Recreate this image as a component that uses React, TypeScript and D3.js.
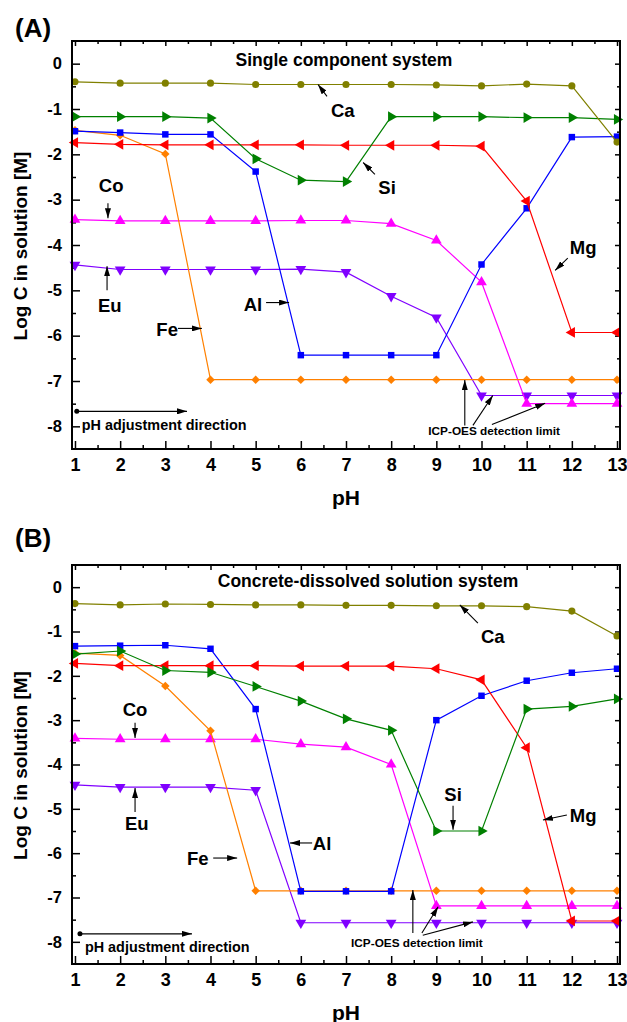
import React, { useEffect, useRef } from 'react';
import * as d3 from 'd3';

const FONT = 'Arial, "Liberation Sans", Helvetica, sans-serif';

const pH = [1, 2, 3, 4, 5, 6, 7, 8, 9, 10, 11, 12, 13];

// (A) single component system, log C [M]
const caA = [-0.4, -0.43, -0.43, -0.43, -0.46, -0.46, -0.46, -0.46, -0.47, -0.49, -0.45, -0.49, -1.73];
const siA = [-1.17, -1.17, -1.17, -1.2, -2.1, -2.57, -2.6, -1.17, -1.17, -1.17, -1.19, -1.19, -1.23];
const mgA = [-1.74, -1.78, -1.79, -1.79, -1.79, -1.79, -1.8, -1.8, -1.8, -1.82, -3.03, -5.93, -5.93];
const alA = [-1.49, -1.52, -1.56, -1.56, -2.38, -6.43, -6.43, -6.43, -6.43, -4.43, -3.19, -1.62, -1.61];
const feA = [-1.47, -1.58, -1.99, -6.97, -6.97, -6.97, -6.97, -6.97, -6.97, -6.97, -6.97, -6.97, -6.97];
const coA = [-3.44, -3.47, -3.47, -3.47, -3.47, -3.46, -3.46, -3.53, -3.9, -4.82, -7.5, -7.5, -7.5];
const euA = [-4.44, -4.54, -4.54, -4.54, -4.54, -4.53, -4.6, -5.13, -5.6, -7.32, -7.32, -7.32, -7.32];

// (B) concrete-dissolved solution system
const caB = [-0.37, -0.4, -0.38, -0.39, -0.4, -0.4, -0.41, -0.41, -0.42, -0.42, -0.44, -0.54, -1.1];
const siB = [-1.51, -1.44, -1.88, -1.92, -2.24, -2.57, -2.97, -3.23, -5.5, -5.5, -2.75, -2.69, -2.52];
const mgB = [-1.72, -1.77, -1.77, -1.77, -1.77, -1.78, -1.78, -1.78, -1.84, -2.09, -3.62, -7.53, -7.53];
const alB = [-1.33, -1.32, -1.31, -1.39, -2.75, -6.86, -6.86, -6.86, -3.0, -2.45, -2.11, -1.93, -1.84];
const feB = [-1.49, -1.54, -2.23, -3.24, -6.85, -6.85, -6.85, -6.85, -6.85, -6.85, -6.85, -6.85, -6.85];
const coB = [-3.41, -3.43, -3.43, -3.43, -3.43, -3.54, -3.61, -4.0, -7.19, -7.19, -7.19, -7.19, -7.19];
const euB = [-4.46, -4.51, -4.51, -4.51, -4.58, -7.57, -7.57, -7.57, -7.57, -7.57, -7.57, -7.57, -7.57];

const elements = ['Eu', 'Co', 'Fe', 'Al', 'Mg', 'Si', 'Ca'];
const valuesA: Record<string, number[]> = { Ca: caA, Si: siA, Mg: mgA, Al: alA, Fe: feA, Co: coA, Eu: euA };
const valuesB: Record<string, number[]> = { Ca: caB, Si: siB, Mg: mgB, Al: alB, Fe: feB, Co: coB, Eu: euB };

// marker style per element
const styles: Record<string, { color: string; symbol: d3.SymbolType; rotate: number; size: number }> = {
  Ca: { color: '#808000', symbol: d3.symbolCircle, rotate: 0, size: 40 },
  Si: { color: '#008000', symbol: d3.symbolTriangle, rotate: 90, size: 50 },
  Mg: { color: '#ff0000', symbol: d3.symbolTriangle, rotate: -90, size: 50 },
  Al: { color: '#0000ff', symbol: d3.symbolSquare, rotate: 0, size: 42 },
  Fe: { color: '#ff8000', symbol: d3.symbolSquare, rotate: 45, size: 36 },
  Co: { color: '#ff00ff', symbol: d3.symbolTriangle, rotate: 0, size: 50 },
  Eu: { color: '#8000ff', symbol: d3.symbolTriangle, rotate: 180, size: 50 },
};

type Pt = [number, number];
interface Note { text: string; at: Pt; from: Pt; to: Pt }

interface Panel {
  top: number;
  bottom: number;
  tag: string;
  tagY: number;
  title: string;
  titleX: number;
  titleY: number;
  values: Record<string, number[]>;
  notes: Note[];
  adj: { x0: number; x1: number; y: number; textY: number };
  icp: { at: Pt; arrows: [Pt, Pt][] };
}

const panels: Panel[] = [
  {
    top: 41,
    bottom: 449,
    tag: '(A)',
    tagY: 28,
    title: 'Single component system',
    titleX: 344,
    titleY: 60,
    values: valuesA,
    notes: [
      { text: 'Ca', at: [6.93, -1.03], from: [6.58, -0.72], to: [6.38, -0.46] },
      { text: 'Si', at: [7.91, -2.73], from: [7.64, -2.44], to: [7.38, -2.18] },
      { text: 'Mg', at: [12.25, -4.05], from: [11.91, -4.29], to: [11.63, -4.56] },
      { text: 'Co', at: [1.8, -2.68], from: [1.73, -3.08], to: [1.73, -3.41] },
      { text: 'Eu', at: [1.77, -5.33], from: [1.71, -5.0], to: [1.71, -4.47] },
      { text: 'Al', at: [4.94, -5.31], from: [5.23, -5.27], to: [5.74, -5.27] },
      { text: 'Fe', at: [3.04, -5.86], from: [3.28, -5.84], to: [3.81, -5.84] },
    ],
    adj: { x0: 1.04, x1: 3.48, y: -7.67, textY: -8.09 },
    icp: {
      at: [10.28, -8.2],
      arrows: [
        [[9.63, -7.98], [9.63, -6.98]],
        [[9.81, -7.98], [10.25, -7.32]],
        [[10.23, -7.96], [11.41, -7.49]],
      ],
    },
  },
  {
    top: 565,
    bottom: 964,
    tag: '(B)',
    tagY: 538,
    title: 'Concrete-dissolved solution system',
    titleX: 368,
    titleY: 581,
    values: valuesB,
    notes: [
      { text: 'Ca', at: [10.25, -1.12], from: [9.92, -0.81], to: [9.52, -0.4] },
      { text: 'Co', at: [2.33, -2.77], from: [2.33, -3.06], to: [2.33, -3.4] },
      { text: 'Eu', at: [2.37, -5.32], from: [2.33, -5.07], to: [2.33, -4.53] },
      { text: 'Fe', at: [3.72, -6.11], from: [4.06, -6.11], to: [4.59, -6.11] },
      { text: 'Al', at: [6.47, -5.79], from: [6.25, -5.77], to: [5.76, -5.77] },
      { text: 'Si', at: [9.37, -4.68], from: [9.37, -4.93], to: [9.37, -5.47] },
      { text: 'Mg', at: [12.25, -5.16], from: [11.89, -5.14], to: [11.36, -5.25] },
    ],
    adj: { x0: 1.11, x1: 3.59, y: -7.82, textY: -8.23 },
    icp: {
      at: [8.57, -8.11],
      arrows: [
        [[8.48, -7.8], [8.48, -6.83]],
        [[8.68, -7.8], [9.04, -7.21]],
        [[8.7, -7.85], [9.81, -7.55]],
      ],
    },
  },
];

const drawPanel = (svg: d3.Selection<SVGSVGElement, unknown, null, undefined>, p: Panel) => {
  const left = 72;
  const right = 620;
  const x = d3.scaleLinear().domain([0.934, 13.066]).range([left, right]);
  const y = d3.scaleLinear().domain([-8.5, 0.5]).range([p.bottom, p.top]);

  const g = svg.append('g').attr('font-family', FONT).attr('font-weight', 'bold');

  const minorX = d3.range(1.5, 13, 1);
  const majorY = d3.range(-8, 1, 1);
  const minorY = d3.range(-7.5, 0.5, 1);
  const plain = (d: d3.NumberValue) => `${d}`; // keep ASCII hyphen like the original

  const styleAxis = (sel: d3.Selection<SVGGElement, unknown, null, undefined>, size: number) => {
    sel.select('.domain').remove();
    sel.selectAll('line').attr('stroke', '#000').attr('stroke-width', 1.5);
    sel.attr('font-family', FONT).attr('font-size', size).attr('font-weight', 'bold');
  };

  // bottom axis
  g.append('g')
    .attr('transform', `translate(0,${p.bottom})`)
    .call(d3.axisBottom(x).tickValues(pH).tickSize(-8).tickPadding(9).tickFormat(plain))
    .call((s) => styleAxis(s, 18));
  g.append('g')
    .attr('transform', `translate(0,${p.bottom})`)
    .call(d3.axisBottom(x).tickValues(minorX).tickSize(-4).tickFormat(() => ''))
    .call((s) => styleAxis(s, 10));
  // top axis (mirror)
  g.append('g')
    .attr('transform', `translate(0,${p.top})`)
    .call(d3.axisTop(x).tickValues(pH).tickSize(-5).tickFormat(() => ''))
    .call((s) => styleAxis(s, 10));
  g.append('g')
    .attr('transform', `translate(0,${p.top})`)
    .call(d3.axisTop(x).tickValues(minorX).tickSize(-3).tickFormat(() => ''))
    .call((s) => styleAxis(s, 10));

  // left axis
  g.append('g')
    .attr('transform', `translate(${left},0)`)
    .call(d3.axisLeft(y).tickValues(majorY).tickSize(-8).tickPadding(10).tickFormat(plain))
    .call((s) => styleAxis(s, 16.5));
  g.append('g')
    .attr('transform', `translate(${left},0)`)
    .call(d3.axisLeft(y).tickValues(minorY).tickSize(-4).tickFormat(() => ''))
    .call((s) => styleAxis(s, 10));
  // right axis (mirror)
  g.append('g')
    .attr('transform', `translate(${right},0)`)
    .call(d3.axisRight(y).tickValues(majorY).tickSize(-5).tickFormat(() => ''))
    .call((s) => styleAxis(s, 10));
  g.append('g')
    .attr('transform', `translate(${right},0)`)
    .call(d3.axisRight(y).tickValues(minorY).tickSize(-3).tickFormat(() => ''))
    .call((s) => styleAxis(s, 10));

  // series
  const line = d3
    .line<number>()
    .x((_, i) => x(pH[i]))
    .y((d) => y(d));

  elements.forEach((el) => {
    const st = styles[el];
    const vals = p.values[el];
    g.append('path')
      .attr('d', line(vals))
      .attr('fill', 'none')
      .attr('stroke', st.color)
      .attr('stroke-width', 1.2);
    const sym = d3.symbol().type(st.symbol).size(st.size)();
    g.selectAll(null)
      .data(vals)
      .enter()
      .append('path')
      .attr('d', sym)
      .attr('transform', (d, i) => `translate(${x(pH[i])},${y(d)}) rotate(${st.rotate})`)
      .attr('fill', st.color);
  });

  // frame
  g.append('rect')
    .attr('x', left)
    .attr('y', p.top)
    .attr('width', right - left)
    .attr('height', p.bottom - p.top)
    .attr('fill', 'none')
    .attr('stroke', '#000')
    .attr('stroke-width', 2);

  const arrow = (from: Pt, to: Pt) =>
    g.append('line')
      .attr('x1', x(from[0]))
      .attr('y1', y(from[1]))
      .attr('x2', x(to[0]))
      .attr('y2', y(to[1]))
      .attr('stroke', '#000')
      .attr('stroke-width', 1.1)
      .attr('marker-end', 'url(#arrow)');

  // element labels
  p.notes.forEach((n) => {
    g.append('text')
      .attr('x', x(n.at[0]))
      .attr('y', y(n.at[1]))
      .attr('text-anchor', 'middle')
      .attr('dominant-baseline', 'central')
      .attr('font-size', 18.5)
      .text(n.text);
    arrow(n.from, n.to);
  });

  // pH adjustment direction
  g.append('circle').attr('cx', x(p.adj.x0)).attr('cy', y(p.adj.y)).attr('r', 2.5).attr('fill', '#000');
  arrow([p.adj.x0, p.adj.y], [p.adj.x1, p.adj.y]);
  g.append('text')
    .attr('x', x(p.adj.x0) + 5)
    .attr('y', y(p.adj.textY))
    .attr('font-size', 14.4)
    .text('pH adjustment direction');

  // detection limit
  g.append('text')
    .attr('x', x(p.icp.at[0]))
    .attr('y', y(p.icp.at[1]))
    .attr('text-anchor', 'middle')
    .attr('font-size', 11.8)
    .text('ICP-OES detection limit');
  p.icp.arrows.forEach(([a, b]) => arrow(a, b));

  // titles
  g.append('text')
    .attr('x', p.titleX)
    .attr('y', p.titleY)
    .attr('text-anchor', 'middle')
    .attr('dominant-baseline', 'central')
    .attr('font-size', 17.5)
    .text(p.title);
  g.append('text')
    .attr('x', 15)
    .attr('y', p.tagY)
    .attr('dominant-baseline', 'central')
    .attr('font-size', 26)
    .text(p.tag);
  g.append('text')
    .attr('transform', `translate(20,${(p.top + p.bottom) / 2 + 1}) rotate(-90)`)
    .attr('text-anchor', 'middle')
    .attr('dominant-baseline', 'central')
    .attr('font-size', 19)
    .text('Log C in solution [M]');
  g.append('text')
    .attr('x', (left + right) / 2)
    .attr('y', p.bottom + 48)
    .attr('text-anchor', 'middle')
    .attr('dominant-baseline', 'central')
    .attr('font-size', 21)
    .text('pH');
};

const App: React.FC = () => {
  const ref = useRef<SVGSVGElement | null>(null);

  useEffect(() => {
    if (ref.current) {
      const svg = d3.select(ref.current);
      svg.selectAll('*').remove();

      svg.append('defs')
        .append('marker')
        .attr('id', 'arrow')
        .attr('viewBox', '0 0 10 6')
        .attr('refX', 10)
        .attr('refY', 3)
        .attr('markerWidth', 10)
        .attr('markerHeight', 6)
        .attr('markerUnits', 'userSpaceOnUse')
        .attr('orient', 'auto')
        .append('path')
        .attr('d', 'M0,0L10,3L0,6Z')
        .attr('fill', '#000');

      panels.forEach((p) => drawPanel(svg, p));
    }
  }, []);

  return (
    <svg
      ref={ref}
      width={627}
      height={1022}
      style={{ position: 'absolute', left: 0, top: 0, background: '#fff' }}
    ></svg>
  );
};

export default App;
